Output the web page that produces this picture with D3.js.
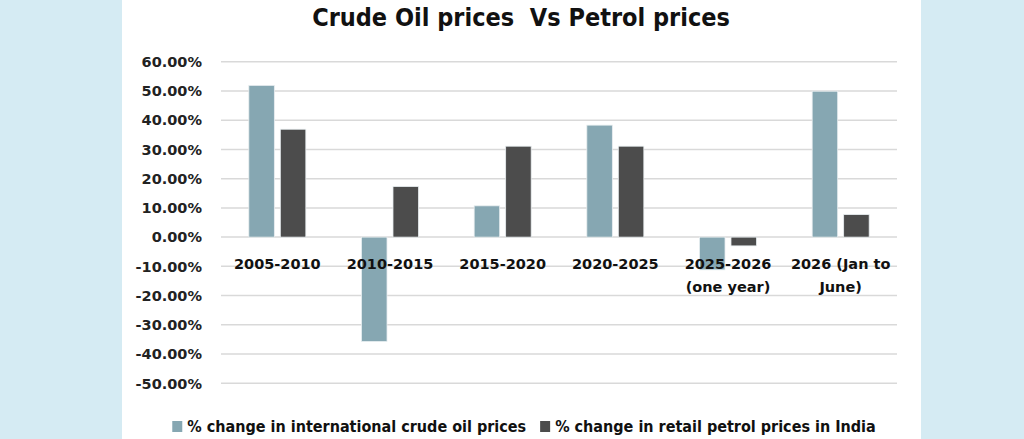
<!DOCTYPE html>
<html>
<head>
<meta charset="utf-8">
<script src="https://cdn.jsdelivr.net/npm/d3@7"></script>
<style>
  body { margin: 0; background: #d5ebf3; }
  svg { display: block; }
</style>
</head>
<body>
<div id="chart"></div>
<script>
// data
const categories = ["2005-2010", "2010-2015", "2015-2020", "2020-2025", "2025-2026\n(one year)", "2026 (Jan to\nJune)"];
const series = ["% change in international crude oil prices", "% change in retail petrol prices in India"];
const crude = [51.9, -35.7, 10.7, 38.3, -11.2, 49.9];
const petrol = [36.9, 17.3, 31.1, 31.1, -3.0, 7.7];
const yTicks = [60, 50, 40, 30, 20, 10, 0, -10, -20, -30, -40, -50];
const colors = ["#86a7b2", "#4c4c4c"];

const width = 1024;
const height = 439;

const svg = d3.select("#chart").append("svg")
    .attr("width", width)
    .attr("height", height);

// white panel
svg.append("rect")
    .attr("x", 122).attr("y", 0)
    .attr("width", 799).attr("height", height)
    .attr("fill", "#ffffff");

svg.append("text")
    .attr("x", 521).attr("y", 26)
    .attr("text-anchor", "middle")
    .style("white-space", "pre")
    .style("font-family", "'DejaVu Sans Condensed', 'DejaVu Sans'")
    .style("font-weight", "bold")
    .style("font-size", "25px")
    .attr("fill", "#111")
    .text("Crude Oil prices  Vs Petrol prices");

const y = d3.scaleLinear().domain([-50, 60]).range([383.3, 61.7]);
const x0 = d3.scaleBand().domain(categories).range([221, 897]);
const x1 = d3.scaleBand().domain(series).range([0, 57]).paddingInner(0.19);
const off = x0.bandwidth() / 2 - 28.5;

// gridlines
svg.append("g").selectAll("line")
    .data(yTicks)
    .enter().append("line")
    .attr("x1", 221).attr("x2", 897)
    .attr("y1", d => y(d)).attr("y2", d => y(d))
    .attr("stroke", "#d9d9d9")
    .attr("stroke-width", 1.5);

// y labels
svg.append("g").selectAll("text")
    .data(yTicks)
    .enter().append("text")
    .attr("x", 202)
    .attr("y", d => y(d))
    .attr("dy", "0.36em")
    .attr("text-anchor", "end")
    .style("font-family", "'DejaVu Sans'")
    .style("font-weight", "bold")
    .style("font-size", "14.5px")
    .attr("fill", "#222")
    .text(d => d.toFixed(2) + "%");

const rows = categories.map((c, i) => ({ cat: c, vals: [crude[i], petrol[i]] }));

const groups = svg.append("g").selectAll("g")
    .data(rows)
    .enter().append("g")
    .attr("transform", d => "translate(" + (x0(d.cat) + off) + ",0)");

groups.selectAll("rect")
    .data(d => d.vals.map((v, j) => ({ s: series[j], v: v, j: j })))
    .enter().append("rect")
    .attr("x", d => x1(d.s))
    .attr("width", x1.bandwidth())
    .attr("y", d => y(Math.max(0, d.v)))
    .attr("height", d => Math.abs(y(d.v) - y(0)))
    .attr("fill", d => colors[d.j])
    .attr("stroke", "#e8eef0")
    .attr("stroke-width", 0.8);

// category labels under the zero line
const catLabels = svg.append("g").selectAll("text")
    .data(categories)
    .enter().append("text")
    .attr("x", d => x0(d) + x0.bandwidth() / 2)
    .attr("y", 269)
    .attr("text-anchor", "middle")
    .style("font-family", "'DejaVu Sans'")
    .style("font-weight", "bold")
    .style("font-size", "14.5px")
    .attr("fill", "#111");

catLabels.each(function (d) {
    const lines = d.split("\n");
    const t = d3.select(this);
    lines.forEach((ln, k) => {
        t.append("tspan")
            .attr("x", x0(d) + x0.bandwidth() / 2)
            .attr("dy", k === 0 ? 0 : 23)
            .text(ln);
    });
});

// legend
const legend = svg.append("g");
let lx = 0;
series.forEach((s, i) => {
    const g = legend.append("g").attr("transform", "translate(" + lx + ",0)");
    g.append("rect")
        .attr("x", 0).attr("y", 421)
        .attr("width", 10).attr("height", 11)
        .attr("fill", colors[i]);
    const t = g.append("text")
        .attr("x", 15).attr("y", 432)
        .style("font-family", "'DejaVu Sans Condensed', 'DejaVu Sans'")
        .style("font-weight", "bold")
        .style("font-size", "16px")
        .attr("fill", "#111")
        .text(s);
    lx += 15 + t.node().getComputedTextLength() + 14;
});
const legW = lx - 14;
legend.attr("transform", "translate(" + (524 - legW / 2) + ",0)");
</script>
</body>
</html>
